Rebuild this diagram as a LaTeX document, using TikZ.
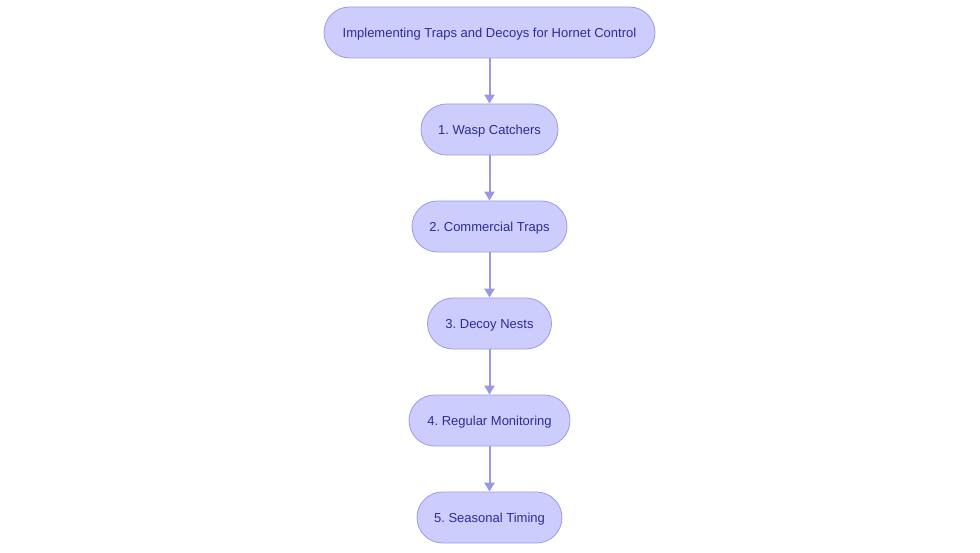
\documentclass[tikz,border=0pt]{standalone}
\usepackage{fontspec}
\setmainfont{Liberation Sans}
\usetikzlibrary{arrows.meta}
\definecolor{boxfill}{HTML}{CDCDFD}
\definecolor{boxline}{HTML}{9A9AEA}
\definecolor{boxtext}{HTML}{2C2C92}
\definecolor{arrowc}{HTML}{9898E4}
\frenchspacing
\tikzset{
  stepbox/.style={draw=boxline, fill=boxfill, line width=0.8pt, rounded corners=25.5pt,
    minimum height=51pt, inner sep=0pt, text=boxtext, text height=11pt, text depth=1.5pt,
    font=\fontsize{13}{15}\selectfont},
  link/.style={draw=arrowc, line width=2pt, -{Triangle[length=9pt,width=10pt]}}
}
\begin{document}
\begin{tikzpicture}[x=1pt,y=-1pt]
\useasboundingbox (0,0) rectangle (980,553);
\node[stepbox, minimum width=331pt] (t) at (489.5,32.5) {Implementing Traps and Decoys for Hornet Control};
\node[stepbox, minimum width=137pt] (a) at (489.5,129.5) {1. Wasp Catchers};
\node[stepbox, minimum width=155pt] (b) at (489.5,226.5) {2. Commercial Traps};
\node[stepbox, minimum width=124pt] (c) at (489.5,323.5) {3. Decoy Nests};
\node[stepbox, minimum width=161pt] (d) at (489.5,420.5) {4. Regular Monitoring};
\node[stepbox, minimum width=145pt] (e) at (489.5,517.5) {5. Seasonal Timing};
\draw[link] (t) -- (a);
\draw[link] (a) -- (b);
\draw[link] (b) -- (c);
\draw[link] (c) -- (d);
\draw[link] (d) -- (e);
\end{tikzpicture}
\end{document}
